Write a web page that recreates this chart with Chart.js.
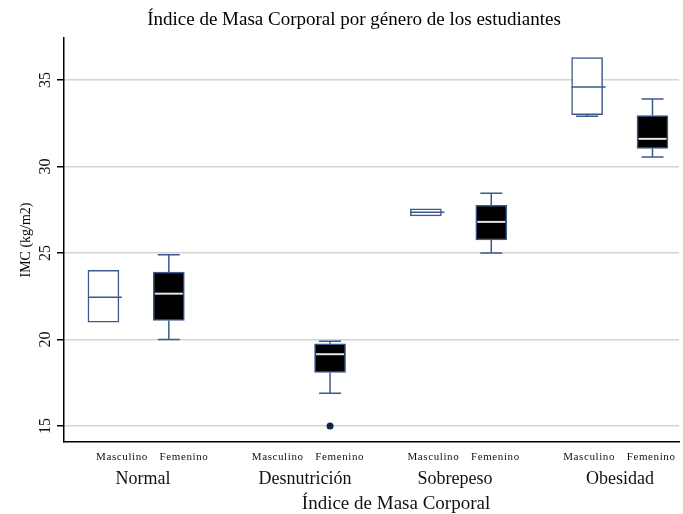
<!DOCTYPE html>
<html lang="es">
<head>
<meta charset="utf-8">
<title>Índice de Masa Corporal por género de los estudiantes</title>
<script src="https://cdn.jsdelivr.net/npm/chart.js@4"></script>
<style>
  html, body { margin: 0; padding: 0; background: #fff; }
  #wrap { width: 683px; height: 514px; position: relative; }
</style>
</head>
<body>
<div id="wrap"><canvas id="grafico"></canvas></div>
<script>
// Categorías de IMC y géneros
const categorias = ['Normal', 'Desnutrición', 'Sobrepeso', 'Obesidad'];
const generos = ['Masculino', 'Femenino'];
const marcasY = [15, 20, 25, 30, 35];

// Resumen de cajas: Masculino (kg/m2)
const mascMin = [21.0, null, 27.15, 32.9];
const mascQ1  = [21.0, null, 27.15, 33.0];
const mascMed = [22.45, null, 27.35, 34.6];
const mascQ3  = [24.0, null, 27.55, 36.3];
const mascMax = [24.0, null, 27.55, 36.3];

// Resumen de cajas: Femenino (kg/m2)
const femMin = [20.0, 16.9, 25.0, 30.55];
const femQ1  = [21.1, 18.1, 25.75, 31.05];
const femMed = [22.65, 19.15, 26.8, 31.6];
const femQ3  = [23.9, 19.75, 27.75, 32.95];
const femMax = [24.9, 19.9, 28.45, 33.9];

// Valores atípicos (Femenino)
const femAtipicos = [[], [15.0], [], []];

// ---- disposición ----
const SUB = 0.4056;            // separación Masculino/Femenino dentro de cada grupo
const pos = (i, g) => i + g * SUB;
const AZUL = '#3a5a8c';
const SERIF = "'Liberation Serif', 'DejaVu Serif', serif";

const series = [
  { min: mascMin, q1: mascQ1, med: mascMed, q3: mascQ3, max: mascMax },
  { min: femMin,  q1: femQ1,  med: femMed,  q3: femQ3,  max: femMax }
];

function cajas(g) {
  const s = series[g];
  return categorias.map((c, i) =>
    s.q1[i] == null ? null : { x: pos(i, g), y: [s.q1[i], s.q3[i]] }
  ).filter(d => d);
}

const atipicos = [];
femAtipicos.forEach((vals, i) => vals.forEach(v => atipicos.push({ x: pos(i, 1), y: v })));

// Bigotes y medianas dibujados con las escalas del gráfico
const bigotes = {
  id: 'bigotes',
  beforeDatasetsDraw(chart) {
    const { ctx, scales: { x, y } } = chart;
    ctx.save();
    ctx.strokeStyle = AZUL;
    ctx.lineWidth = 1.5;
    series.forEach((s, g) => {
      categorias.forEach((c, i) => {
        if (s.q1[i] == null) return;
        const cx = x.getPixelForValue(pos(i, g));
        const tapa = 11;
        const tramos = [[s.min[i], s.q1[i]], [s.max[i], s.q3[i]]];
        tramos.forEach(([ext, borde]) => {
          if (ext === borde) return;
          const ye = y.getPixelForValue(ext), yb = y.getPixelForValue(borde);
          ctx.beginPath();
          ctx.moveTo(cx, ye); ctx.lineTo(cx, yb);
          ctx.moveTo(cx - tapa, ye); ctx.lineTo(cx + tapa, ye);
          ctx.stroke();
        });
      });
    });
    ctx.restore();
  },
  afterDatasetsDraw(chart) {
    const { ctx, scales: { x, y } } = chart;
    ctx.save();
    series.forEach((s, g) => {
      categorias.forEach((c, i) => {
        if (s.med[i] == null) return;
        const cx = x.getPixelForValue(pos(i, g));
        const ym = y.getPixelForValue(s.med[i]);
        ctx.beginPath();
        if (g === 0) {
          ctx.strokeStyle = AZUL; ctx.lineWidth = 1.5;
          ctx.moveTo(cx - 15.5, ym); ctx.lineTo(cx + 18.5, ym);
        } else {
          ctx.strokeStyle = '#e4e4e4'; ctx.lineWidth = 2;
          ctx.moveTo(cx - 14, ym); ctx.lineTo(cx + 14, ym);
        }
        ctx.stroke();
      });
    });
    ctx.restore();
  }
};

// Rótulos: marcas del eje Y giradas y etiquetas del eje X por grupo
const rotulos = {
  id: 'rotulos',
  afterDraw(chart) {
    const { ctx, chartArea, scales: { y } } = chart;
    ctx.save();
    ctx.fillStyle = '#111';
    // marcas del eje Y
    ctx.font = '16px ' + SERIF;
    ctx.textAlign = 'center';
    ctx.textBaseline = 'middle';
    y.ticks.forEach(t => {
      const py = y.getPixelForValue(t.value);
      ctx.save();
      ctx.translate(chartArea.left - 18, py);
      ctx.rotate(-Math.PI / 2);
      ctx.fillText(String(t.value), 0, 0);
      ctx.restore();
    });
    // géneros bajo cada grupo
    ctx.font = '11px ' + SERIF;
    ctx.letterSpacing = '0.6px';
    categorias.forEach((c, i) => {
      generos.forEach((gname, g) => {
        const px = chartArea.left + 58 + i * 155.7 + g * 62;
        ctx.fillText(gname, px, chartArea.bottom + 15);
      });
    });
    ctx.letterSpacing = '0px';
    // nombres de los grupos
    ctx.font = '18px ' + SERIF;
    const centros = [79, 241, 391, 556];
    categorias.forEach((c, i) => {
      ctx.fillText(c, chartArea.left + centros[i], chartArea.bottom + 37);
    });
    // título del eje X
    ctx.font = '19px ' + SERIF;
    ctx.fillText('Índice de Masa Corporal', chartArea.left + 332, chartArea.bottom + 62);
    ctx.restore();
  }
};

new Chart(document.getElementById('grafico'), {
  type: 'bar',
  data: {
    datasets: [
      {
        label: generos[0],
        data: cajas(0),
        backgroundColor: '#ffffff',
        borderColor: AZUL,
        borderWidth: 1.5,
        borderSkipped: false,
        grouped: false,
        barThickness: 31,
        maxBarThickness: 31
      },
      {
        label: generos[1],
        data: cajas(1),
        backgroundColor: '#000000',
        borderColor: AZUL,
        borderWidth: 1.5,
        borderSkipped: false,
        grouped: false,
        barThickness: 31,
        maxBarThickness: 31
      },
      {
        type: 'scatter',
        label: 'Atípicos',
        data: atipicos,
        pointRadius: 3.5,
        pointBackgroundColor: '#14254a',
        pointBorderColor: '#14254a',
        pointBorderWidth: 0
      }
    ]
  },
  options: {
    responsive: true,
    maintainAspectRatio: false,
    animation: false,
    layout: { padding: { left: 25, right: 0, top: 0, bottom: 0 } },
    plugins: {
      legend: { display: false },
      tooltip: { enabled: false },
      title: {
        display: true,
        text: 'Índice de Masa Corporal por género de los estudiantes',
        color: '#000',
        font: { family: SERIF, size: 19, weight: 'normal' },
        padding: { top: 9, bottom: 6.2 }
      }
    },
    scales: {
      x: {
        type: 'linear',
        offset: false,
        min: -0.2446,
        max: 3.570,
        grid: { display: false },
        ticks: { display: false },
        border: { display: true, color: '#000', width: 1.5 },
        afterFit(scale) { scale.height = 72; }
      },
      y: {
        type: 'linear',
        min: 14.075,
        max: 37.43,
        ticks: { display: false, stepSize: 5, includeBounds: false },
        grid: { color: '#d4d4d4', lineWidth: 1.5, tickColor: '#000', tickLength: 7, drawTicks: true },
        border: { display: true, color: '#000', width: 1.5 },
        title: {
          display: true,
          text: 'IMC (kg/m2)',
          color: '#000',
          font: { family: SERIF, size: 14, weight: 'normal' },
          padding: { top: -7.4, bottom: 0 }
        },
        afterFit(scale) { scale.width = 39; }
      }
    }
  },
  plugins: [bigotes, rotulos]
});
</script>
</body>
</html>
